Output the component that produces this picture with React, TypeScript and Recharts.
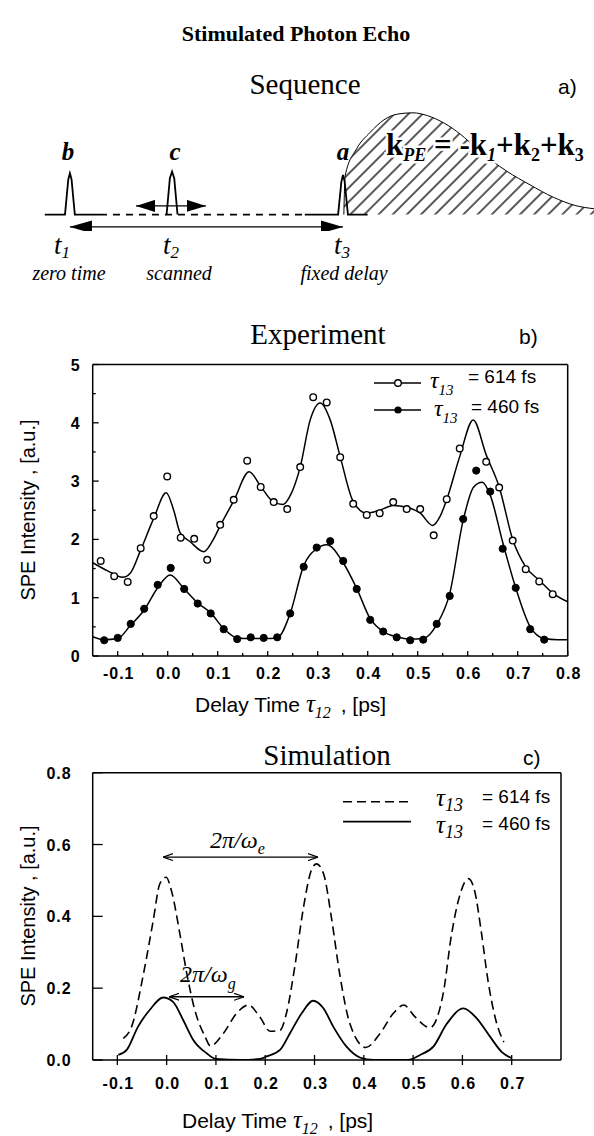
import React from 'react';
import { Area, ComposedChart, Line, Scatter, XAxis, YAxis } from 'recharts';

const SERIF = '"Liberation Serif", "DejaVu Serif", serif';
const SANS = '"Liberation Sans", Arial, sans-serif';

// ---- a) pulse sequence (time in units of t3 - t1) ----
const pulseBT = [-0.092, -0.018, -0.006, 0, 0.006, 0.018, 0.11];
const pulseBV = [0, 0, 0.85, 1, 0.85, 0, 0];
const pulseCT = [0.354, 0.366, 0.374, 0.382, 0.394];
const pulseCV = [0, 0.88, 1.04, 0.88, 0];
const pulseAT = [0.86, 0.982, 0.994, 1.0, 1.006, 1.018, 1.09];
const pulseAV = [0, 0, 0.8, 0.96, 0.8, 0, 0];
const baseDashT = [0.11, 0.86];
const baseDashV = [0, 0];
const echoT = [1.003, 1.008, 1.05, 1.1, 1.15, 1.2, 1.256, 1.31, 1.37, 1.43, 1.49, 1.546, 1.6, 1.685, 1.77, 1.85, 1.919];
const echoV = [0, 0.95, 1.6, 2.0, 2.3, 2.44, 2.47, 2.4, 2.22, 1.95, 1.6, 1.3, 1.05, 0.72, 0.42, 0.22, 0.14];
const delayArrowT = [0, 1];
const delayArrowV = [-0.3, -0.3];
const scanArrowT = [0.242, 0.498];
const scanArrowV = [0.21, 0.21];

// ---- b) experiment ----
const expOpenT = [-0.134, -0.107, -0.08, -0.054, -0.028, -0.001, 0.026, 0.053, 0.079, 0.105, 0.132, 0.159, 0.186, 0.212, 0.239, 0.265, 0.291, 0.318, 0.345, 0.371, 0.398, 0.424, 0.451, 0.478, 0.505, 0.532, 0.558, 0.584, 0.637, 0.663, 0.69, 0.716, 0.743, 0.77];
const expOpenV = [1.63, 1.37, 1.27, 1.85, 2.4, 3.08, 2.03, 2.01, 1.65, 2.25, 2.68, 3.35, 2.9, 2.64, 2.52, 3.24, 4.44, 4.35, 3.41, 2.61, 2.42, 2.45, 2.64, 2.52, 2.52, 2.07, 2.69, 3.56, 3.33, 2.89, 1.98, 1.49, 1.28, 1.06];
const expFullT = [-0.127, -0.1, -0.074, -0.047, -0.02, 0.006, 0.033, 0.06, 0.086, 0.112, 0.139, 0.166, 0.192, 0.219, 0.245, 0.272, 0.298, 0.325, 0.351, 0.378, 0.405, 0.431, 0.458, 0.485, 0.511, 0.538, 0.564, 0.591, 0.617, 0.645, 0.67, 0.696, 0.725, 0.753];
const expFullV = [0.27, 0.31, 0.55, 0.81, 1.22, 1.51, 1.15, 0.9, 0.73, 0.46, 0.29, 0.32, 0.31, 0.32, 0.73, 1.53, 1.86, 1.97, 1.63, 1.15, 0.62, 0.42, 0.32, 0.27, 0.28, 0.55, 1.03, 2.35, 3.18, 2.82, 1.84, 1.17, 0.46, 0.28];
const fitOpenT = [-0.15, -0.12, -0.09, -0.075, -0.054, -0.028, -0.003, 0.012, 0.025, 0.045, 0.072, 0.09, 0.106, 0.132, 0.163, 0.186, 0.212, 0.231, 0.245, 0.265, 0.285, 0.305, 0.325, 0.345, 0.371, 0.398, 0.424, 0.451, 0.478, 0.505, 0.53, 0.545, 0.558, 0.584, 0.611, 0.637, 0.663, 0.69, 0.716, 0.743, 0.77, 0.8];
const fitOpenV = [1.6, 1.46, 1.35, 1.42, 1.82, 2.36, 2.8, 2.5, 2.11, 1.96, 1.79, 1.98, 2.25, 2.66, 3.16, 2.91, 2.64, 2.6, 2.75, 3.24, 4.05, 4.34, 4.05, 3.42, 2.65, 2.45, 2.5, 2.58, 2.55, 2.45, 2.24, 2.4, 2.68, 3.42, 4.05, 3.45, 2.9, 2.0, 1.53, 1.3, 1.08, 0.93];
const fitFullT = [-0.15, -0.127, -0.1, -0.074, -0.047, -0.02, 0.005, 0.033, 0.06, 0.086, 0.112, 0.139, 0.166, 0.192, 0.219, 0.245, 0.272, 0.298, 0.318, 0.351, 0.378, 0.405, 0.431, 0.458, 0.485, 0.511, 0.538, 0.564, 0.591, 0.612, 0.629, 0.645, 0.67, 0.696, 0.725, 0.753, 0.78, 0.8];
const fitFullV = [0.33, 0.28, 0.3, 0.53, 0.79, 1.17, 1.39, 1.15, 0.91, 0.74, 0.47, 0.31, 0.3, 0.3, 0.31, 0.73, 1.55, 1.84, 1.91, 1.6, 1.16, 0.64, 0.42, 0.33, 0.29, 0.3, 0.54, 1.07, 2.33, 2.9, 2.98, 2.76, 1.95, 1.17, 0.5, 0.3, 0.28, 0.28];
const expXMajor = [-0.1, 0, 0.1, 0.2, 0.3, 0.4, 0.5, 0.6, 0.7, 0.8];
const expXMinor = [-0.05, 0.05, 0.15, 0.25, 0.35, 0.45, 0.55, 0.65, 0.75];
const expYMajor = [0, 1, 2, 3, 4, 5];
const expYMinor = [0.5, 1.5, 2.5, 3.5, 4.5];

// ---- c) simulation ----
const simDashT = [-0.088, -0.071, -0.047, -0.027, -0.014, -0.001, 0.01, 0.027, 0.041, 0.057, 0.078, 0.089, 0.115, 0.142, 0.166, 0.189, 0.21, 0.23, 0.243, 0.26, 0.277, 0.294, 0.304, 0.318, 0.335, 0.351, 0.372, 0.404, 0.433, 0.46, 0.481, 0.504, 0.534, 0.561, 0.578, 0.595, 0.612, 0.625, 0.638, 0.652, 0.668, 0.684];
const simDashV = [0.06, 0.093, 0.24, 0.39, 0.49, 0.509, 0.47, 0.35, 0.24, 0.14, 0.065, 0.039, 0.074, 0.13, 0.153, 0.12, 0.08, 0.083, 0.13, 0.26, 0.42, 0.53, 0.546, 0.52, 0.39, 0.24, 0.1, 0.035, 0.074, 0.13, 0.153, 0.12, 0.09, 0.185, 0.35, 0.46, 0.505, 0.47, 0.36, 0.22, 0.11, 0.05];
const simSolidT = [-0.098, -0.081, -0.058, -0.034, -0.007, 0.013, 0.034, 0.054, 0.081, 0.1, 0.15, 0.19, 0.203, 0.23, 0.25, 0.274, 0.297, 0.318, 0.338, 0.365, 0.392, 0.42, 0.49, 0.514, 0.541, 0.568, 0.602, 0.629, 0.656, 0.68, 0.7];
const simSolidV = [0.014, 0.028, 0.093, 0.14, 0.174, 0.162, 0.11, 0.056, 0.019, 0.003, 0, 0.003, 0.01, 0.028, 0.074, 0.13, 0.165, 0.144, 0.093, 0.037, 0.007, 0, 0, 0.014, 0.037, 0.1, 0.144, 0.116, 0.065, 0.022, 0.005];
const omegaEArrowT = [-0.007, 0.307];
const omegaEArrowV = [0.565, 0.565];
const omegaGArrowT = [0.005, 0.157];
const omegaGArrowV = [0.176, 0.176];
const simXTicks = [-0.1, 0, 0.1, 0.2, 0.3, 0.4, 0.5, 0.6, 0.7];
const simYTicks = [0, 0.2, 0.4, 0.6, 0.8];

const zip = (ts: number[], vs: number[]) => ts.map((t, i) => ({ t, v: vs[i] }));
const isIn = (arr: number[], v: number) => arr.some((a) => Math.abs(a - v) < 1e-6);

const axisStroke = { stroke: '#000', strokeWidth: 1.5 };
const tickFont = { fontFamily: SANS, fontWeight: 700, fontSize: 16, letterSpacing: 1, fill: '#000' };

const bottomTick = (labels: number[], majLen: number, minLen: number, below: number, labelDy: number) => (p: any) => {
  const { x, y, payload } = p;
  const major = isIn(labels, payload.value);
  return (
    <g>
      <line x1={x} x2={x} y1={y + below} y2={y - (major ? majLen : minLen)} stroke="#000" strokeWidth={1.3} />
      {major && (
        <text x={x + 1} y={y + labelDy} textAnchor="middle" {...tickFont}>
          {payload.value.toFixed(1)}
        </text>
      )}
    </g>
  );
};

const leftTick = (labels: number[], majLen: number, minLen: number, gap: number, digits: number) => (p: any) => {
  const { x, y, payload } = p;
  const major = isIn(labels, payload.value);
  return (
    <g>
      <line x1={x} x2={x + (major ? majLen : minLen)} y1={y} y2={y} stroke="#000" strokeWidth={1.3} />
      {major && (
        <text x={x - gap} y={y + 6} textAnchor="end" {...tickFont}>
          {payload.value.toFixed(digits)}
        </text>
      )}
    </g>
  );
};

const rightTick = (len: number) => (p: any) => (
  <line x1={p.x} x2={p.x - len} y1={p.y} y2={p.y} stroke="#000" strokeWidth={1.3} />
);

const SequenceChart = () => (
  <ComposedChart width={594} height={140} margin={{ top: 0, right: 0, bottom: 0, left: 0 }}>
    <defs>
      <pattern id="hatch" patternUnits="userSpaceOnUse" width="10" height="10" patternTransform="rotate(45)">
        <line x1="5" y1="0" x2="5" y2="10" stroke="#000" strokeWidth="1.3" />
      </pattern>
      <marker id="headA" viewBox="0 0 22 13" refX="22" refY="6.5" markerWidth="22" markerHeight="13" markerUnits="userSpaceOnUse" orient="auto-start-reverse">
        <path d="M0,0 L22,6.5 L0,13 Z" fill="#000" />
      </marker>
      <marker id="headC" viewBox="0 0 19 12" refX="19" refY="6" markerWidth="19" markerHeight="12" markerUnits="userSpaceOnUse" orient="auto-start-reverse">
        <path d="M0,0 L19,6 L0,12 Z" fill="#000" />
      </marker>
    </defs>
    <XAxis dataKey="t" type="number" domain={[-0.256, 1.919]} hide allowDataOverflow />
    <YAxis dataKey="v" type="number" domain={[-0.4, 3]} hide allowDataOverflow />
    <Area data={zip(echoT, echoV)} dataKey="v" type="monotone" baseValue={0} fill="url(#hatch)" fillOpacity={1} stroke="#000" strokeWidth={1} isAnimationActive={false} />
    <Line data={zip(pulseBT, pulseBV)} dataKey="v" type="linear" stroke="#000" strokeWidth={1.8} dot={false} isAnimationActive={false} />
    <Line data={zip(pulseCT, pulseCV)} dataKey="v" type="linear" stroke="#000" strokeWidth={1.8} dot={false} isAnimationActive={false} />
    <Line data={zip(pulseAT, pulseAV)} dataKey="v" type="linear" stroke="#000" strokeWidth={1.8} dot={false} isAnimationActive={false} />
    <Line data={zip(baseDashT, baseDashV)} dataKey="v" type="linear" stroke="#000" strokeWidth={1.8} strokeDasharray="7 6" dot={false} isAnimationActive={false} />
    <Line data={zip(delayArrowT, delayArrowV)} dataKey="v" type="linear" stroke="#000" strokeWidth={1.2} markerStart="url(#headA)" markerEnd="url(#headA)" dot={false} isAnimationActive={false} />
    <Line data={zip(scanArrowT, scanArrowV)} dataKey="v" type="linear" stroke="#000" strokeWidth={1.2} markerStart="url(#headC)" markerEnd="url(#headC)" dot={false} isAnimationActive={false} />
  </ComposedChart>
);

const openDot = (p: any) => <circle cx={p.cx} cy={p.cy} r={3.3} fill="#fff" stroke="#000" strokeWidth={1.4} />;
const fullDot = (p: any) => <circle cx={p.cx} cy={p.cy} r={3.6} fill="#000" stroke="#000" strokeWidth={1} />;

// axes are 1px thick (Recharts skips zero-sized axes), margins compensate
const ExperimentChart = () => (
  <ComposedChart width={594} height={400} margin={{ top: 33.5, right: 25.3, bottom: 73, left: 91.7 }}>
    <XAxis dataKey="t" type="number" domain={[-0.15, 0.8]} ticks={[...expXMajor, ...expXMinor].sort((a, b) => a - b)} interval={0} tickSize={0} tickMargin={0} height={1} tickLine={false} axisLine={axisStroke} tick={bottomTick(expXMajor, 5, 3, 0, 23)} allowDataOverflow />
    <XAxis xAxisId="top" orientation="top" type="number" domain={[-0.15, 0.8]} height={1} tick={false} tickLine={false} axisLine={axisStroke} />
    <YAxis dataKey="v" type="number" domain={[0, 5]} ticks={[...expYMajor, ...expYMinor].sort((a, b) => a - b)} interval={0} tickSize={0} tickMargin={0} width={1} tickLine={false} axisLine={axisStroke} tick={leftTick(expYMajor, 6, 3, 12, 0)} allowDataOverflow />
    <YAxis yAxisId="right" orientation="right" type="number" domain={[0, 5]} width={1} tick={false} tickLine={false} axisLine={axisStroke} />
    <Line data={zip(fitOpenT, fitOpenV)} dataKey="v" type="monotone" stroke="#000" strokeWidth={1.5} dot={false} isAnimationActive={false} />
    <Line data={zip(fitFullT, fitFullV)} dataKey="v" type="monotone" stroke="#000" strokeWidth={1.5} dot={false} isAnimationActive={false} />
    <Scatter data={zip(expOpenT, expOpenV)} dataKey="v" shape={openDot} isAnimationActive={false} />
    <Scatter data={zip(expFullT, expFullV)} dataKey="v" shape={fullDot} isAnimationActive={false} />
  </ComposedChart>
);

const SimulationChart = () => (
  <ComposedChart width={594} height={396} margin={{ top: 31.7, right: 32, bottom: 75, left: 91.7 }}>
    <defs>
      <marker id="headOpen" viewBox="0 0 10 8" refX="10" refY="4" markerWidth="10" markerHeight="8" markerUnits="userSpaceOnUse" orient="auto-start-reverse">
        <path d="M0,0.5 L10,4 L0,7.5" fill="none" stroke="#000" strokeWidth="1.2" />
      </marker>
    </defs>
    <XAxis dataKey="t" type="number" domain={[-0.15, 0.8]} ticks={simXTicks} interval={0} tickSize={0} tickMargin={0} height={1} tickLine={false} axisLine={axisStroke} tick={bottomTick(simXTicks, 5, 5, 5, 29)} allowDataOverflow />
    <XAxis xAxisId="top" orientation="top" type="number" domain={[-0.15, 0.8]} height={1} tick={false} tickLine={false} axisLine={axisStroke} />
    <YAxis dataKey="v" type="number" domain={[0, 0.8]} ticks={simYTicks} interval={0} tickSize={0} tickMargin={0} width={1} tickLine={false} axisLine={axisStroke} tick={leftTick(simYTicks, 10, 10, 21, 1)} allowDataOverflow />
    <YAxis yAxisId="right" orientation="right" type="number" domain={[0, 0.8]} ticks={simYTicks} interval={0} tickSize={0} tickMargin={0} width={1} tickLine={false} axisLine={axisStroke} tick={rightTick(10)} />
    <Line data={zip(simDashT, simDashV)} dataKey="v" type="monotone" stroke="#000" strokeWidth={1.6} strokeDasharray="9 5" dot={false} isAnimationActive={false} />
    <Line data={zip(simSolidT, simSolidV)} dataKey="v" type="monotone" stroke="#000" strokeWidth={1.8} dot={false} isAnimationActive={false} />
    <Line data={zip(omegaEArrowT, omegaEArrowV)} dataKey="v" type="linear" stroke="#000" strokeWidth={1.2} markerStart="url(#headOpen)" markerEnd="url(#headOpen)" dot={false} isAnimationActive={false} />
    <Line data={zip(omegaGArrowT, omegaGArrowV)} dataKey="v" type="linear" stroke="#000" strokeWidth={1.4} markerStart="url(#headOpen)" markerEnd="url(#headOpen)" dot={false} isAnimationActive={false} />
  </ComposedChart>
);

const it = { fontFamily: SERIF, fontStyle: 'italic' as const };

const Annotations = () => (
  <svg width={594} height={1136} style={{ position: 'absolute', left: 0, top: 0, pointerEvents: 'none' }}>
    <text x={296} y={41} textAnchor="middle" fontFamily={SERIF} fontWeight={700} fontSize={22}>Stimulated Photon Echo</text>

    {/* a) */}
    <text x={305} y={94} textAnchor="middle" fontFamily={SERIF} fontSize={29}>Sequence</text>
    <text x={558} y={94} fontFamily={SANS} fontSize={21}>a)</text>
    <text x={68} y={160} textAnchor="middle" {...it} fontWeight={700} fontSize={25}>b</text>
    <text x={175} y={160} textAnchor="middle" {...it} fontWeight={700} fontSize={25}>c</text>
    <text x={343} y={160} textAnchor="middle" {...it} fontWeight={700} fontSize={25}>a</text>
    <text x={386} y={155} fontFamily={SERIF} fontWeight={700} fontSize={31} stroke="#fff" strokeWidth={5} paintOrder="stroke">
      k<tspan fontStyle="italic" fontSize={18} dy={6}>PE</tspan>
      <tspan dy={-6}> = -k</tspan>
      <tspan fontStyle="italic" fontSize={18} dy={6}>1</tspan>
      <tspan dy={-6}>+k</tspan>
      <tspan fontSize={18} dy={6}>2</tspan>
      <tspan dy={-6}>+k</tspan>
      <tspan fontSize={18} dy={6}>3</tspan>
    </text>
    <text x={54} y={254} {...it} fontSize={27}>t<tspan fontSize={17} dy={4}>1</tspan></text>
    <text x={163} y={254} {...it} fontSize={27}>t<tspan fontSize={17} dy={4}>2</tspan></text>
    <text x={334} y={254} {...it} fontSize={27}>t<tspan fontSize={17} dy={4}>3</tspan></text>
    <text x={69} y={280} textAnchor="middle" {...it} fontSize={20}>zero time</text>
    <text x={179} y={280} textAnchor="middle" {...it} fontSize={20}>scanned</text>
    <text x={344} y={280} textAnchor="middle" {...it} fontSize={20}>fixed delay</text>

    {/* b) */}
    <text x={318} y={344} textAnchor="middle" fontFamily={SERIF} fontSize={29}>Experiment</text>
    <text x={519} y={344} fontFamily={SANS} fontSize={21}>b)</text>
    <line x1={374} x2={421} y1={383} y2={383} stroke="#000" strokeWidth={1.5} />
    <circle cx={398} cy={383} r={3.3} fill="#fff" stroke="#000" strokeWidth={1.4} />
    <text x={430} y={388} {...it} fontSize={24}>τ<tspan fontSize={15} dy={7}>13</tspan></text>
    <text x={468} y={383} fontFamily={SANS} fontSize={19}>= 614 fs</text>
    <line x1={374} x2={421} y1={410} y2={410} stroke="#000" strokeWidth={1.5} />
    <circle cx={398} cy={410} r={3.6} fill="#000" />
    <text x={434} y={416} {...it} fontSize={24}>τ<tspan fontSize={15} dy={7}>13</tspan></text>
    <text x={471} y={413} fontFamily={SANS} fontSize={19}>= 460 fs</text>
    <text transform="translate(35,510) rotate(-90)" textAnchor="middle" fontFamily={SANS} fontSize={20}>SPE Intensity , [a.u.]</text>
    <text x={195} y={712} fontFamily={SANS} fontSize={21}>
      Delay Time <tspan {...it} fontSize={25}>τ</tspan>
      <tspan {...it} fontSize={16} dy={6}>12</tspan>
      <tspan dy={-6} dx={4}> , [ps]</tspan>
    </text>

    {/* c) */}
    <text x={327} y={765} textAnchor="middle" fontFamily={SERIF} fontSize={29}>Simulation</text>
    <text x={523} y={765} fontFamily={SANS} fontSize={21}>c)</text>
    <line x1={343} x2={411} y1={801.7} y2={801.7} stroke="#000" strokeWidth={1.6} strokeDasharray="9 5" />
    <line x1={343} x2={411} y1={821.7} y2={821.7} stroke="#000" strokeWidth={1.8} />
    <text x={436} y={806} {...it} fontSize={25}>τ<tspan fontSize={18} dy={5}>13</tspan></text>
    <text x={482} y={803} fontFamily={SANS} fontSize={19}>= 614 fs</text>
    <text x={436} y={833} {...it} fontSize={25}>τ<tspan fontSize={18} dy={5}>13</tspan></text>
    <text x={482} y={830} fontFamily={SANS} fontSize={19}>= 460 fs</text>
    <text x={210} y={848} {...it} fontSize={24}>2π/ω<tspan fontSize={16} dy={6}>e</tspan></text>
    <text x={180} y={982} {...it} fontSize={24}>2π/ω<tspan fontSize={16} dy={7}>g</tspan></text>
    <text transform="translate(35,916) rotate(-90)" textAnchor="middle" fontFamily={SANS} fontSize={20}>SPE Intensity , [a.u.]</text>
    <text x={182} y={1128} fontFamily={SANS} fontSize={21}>
      Delay Time <tspan {...it} fontSize={25}>τ</tspan>
      <tspan {...it} fontSize={16} dy={6}>12</tspan>
      <tspan dy={-6} dx={4}> , [ps]</tspan>
    </text>
  </svg>
);

export default function App() {
  return (
    <div style={{ position: 'absolute', left: 0, top: 0, width: 594, height: 1136, background: '#fff', overflow: 'hidden' }}>
      <div style={{ position: 'absolute', left: 0, top: 91 }}>
        <SequenceChart />
      </div>
      <div style={{ position: 'absolute', left: 0, top: 330 }}>
        <ExperimentChart />
      </div>
      <div style={{ position: 'absolute', left: 0, top: 740 }}>
        <SimulationChart />
      </div>
      <Annotations />
    </div>
  );
}
